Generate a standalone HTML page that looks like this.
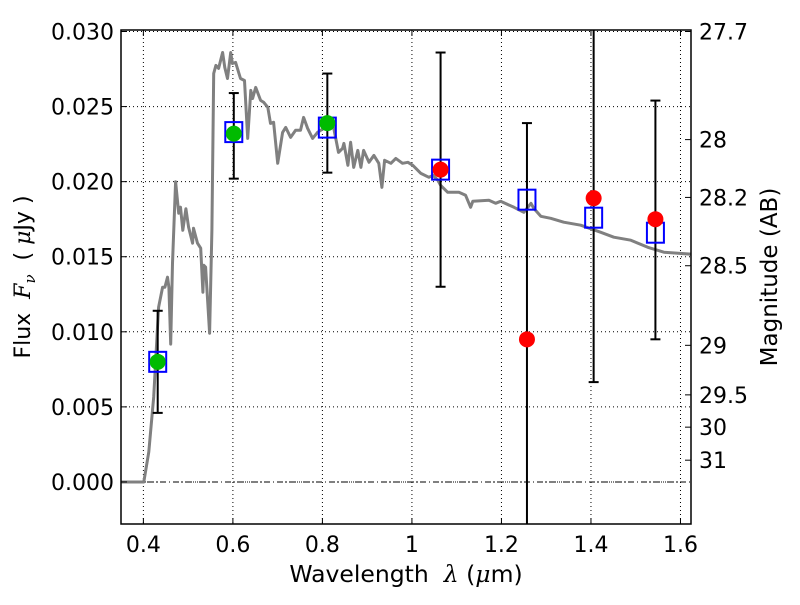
<!DOCTYPE html>
<html><head><meta charset="utf-8"><style>
body{margin:0;background:#fff;}
svg{font-family:"DejaVu Sans","Liberation Sans",sans-serif;}
text{white-space:pre;}
</style></head><body>
<svg id="chart" width="800" height="600" xmlns="http://www.w3.org/2000/svg"></svg>
<script>
// Spectrum: wavelength (um), flux (x 0.001 uJy)
const specLam=[0.349,0.401,0.412,0.423,0.434,0.443,0.448,0.454,0.457,0.461,0.465,0.472,0.479,0.483,0.488,0.495,0.501,0.510,0.512,0.521,0.528,0.533,0.535,0.539,0.548,0.553,0.557,0.562,0.568,0.577,0.582,0.588,0.595,0.599,0.606,0.617,0.626,0.633,0.640,0.644,0.651,0.662,0.669,0.678,0.684,0.691,0.700,0.711,0.718,0.729,0.740,0.751,0.758,0.767,0.778,0.789,0.803,0.825,0.836,0.845,0.848,0.857,0.863,0.870,0.879,0.886,0.892,0.904,0.915,0.926,0.933,0.939,0.953,0.964,0.979,0.991,1.002,1.020,1.038,1.047,1.058,1.064,1.080,1.105,1.120,1.131,1.136,1.172,1.187,1.198,1.228,1.250,1.266,1.272,1.288,1.310,1.339,1.377,1.422,1.451,1.489,1.527,1.563,1.624];
const specFlux=[0,0,2.0,5.66,11.64,12.97,12.97,13.64,12.97,9.18,14.57,20.0,17.9,18.3,16.76,18.2,16.96,15.9,16.9,15.9,15.57,12.64,14.43,14.3,9.91,16.76,27.2,27.74,27.54,28.6,27.6,26.87,28.6,27.87,27.94,26.87,26.74,22.88,26.08,25.54,26.28,25.41,25.28,24.95,23.88,23.95,21.22,23.28,23.61,22.95,23.42,23.42,24.28,23.55,22.88,23.28,23.55,23.61,21.95,22.22,22.55,21.09,22.62,20.95,22.08,20.95,22.08,21.29,21.75,21.22,19.62,21.42,21.22,21.55,21.22,21.29,21.09,20.55,20.29,20.42,20.09,19.76,19.29,19.29,19.09,18.29,18.69,18.76,18.56,18.69,18.29,17.96,18.56,18.23,17.69,17.56,17.30,17.10,16.63,16.30,16.10,15.63,15.30,15.17];
// Photometry
const photLam=[0.432,0.602,0.811,1.064,1.257,1.406,1.544];
const photFlux=[8.0,23.2,23.9,20.8,9.5,18.9,17.5];
const errLo=[4.6,20.2,20.6,13.0,-5,6.65,9.5];
const errHi=[11.4,25.9,27.2,28.6,23.9,35,25.4];
const modelFlux=[8.0,23.3,23.6,20.8,18.8,17.6,16.6];
const photColor=['#00bb00','#00bb00','#00bb00','red','red','red','red'];
// Axes ticks
const xTicks=[0.4,0.6,0.8,1.0,1.2,1.4,1.6];
const xTickLabels=['0.4','0.6','0.8','1','1.2','1.4','1.6'];
const yTicks=[0,5,10,15,20,25,30];
const yTickLabels=['0.000','0.005','0.010','0.015','0.020','0.025','0.030'];
const magLabels=['27.7','28','28.2','28.5','29','29.5','30','31'];
const magFlux=[30.0,22.8,18.95,14.4,9.1,5.8,3.65,1.45];

const L=121,R=691,T=30,B=524;
const X0=0.35,X1=1.6235,Y0=-2.8,Y1=30.1;
const sx=v=>L+(v-X0)/(X1-X0)*(R-L);
const sy=v=>B-(v-Y0)/(Y1-Y0)*(B-T);
const svg=document.getElementById('chart');
const NS='http://www.w3.org/2000/svg';
function mk(tag,attrs,parent){const e=document.createElementNS(NS,tag);for(const k in attrs)e.setAttribute(k,attrs[k]);(parent||svg).appendChild(e);return e;}

const defs=mk('defs',{});
const cp=mk('clipPath',{id:'clip'},defs);
mk('rect',{x:L,y:T,width:R-L,height:B-T},cp);

const grid=mk('g',{});


xTicks.forEach(v=>{mk('line',{x1:sx(v),x2:sx(v),y1:T,y2:B,stroke:'#000','stroke-width':1,'stroke-dasharray':'1,3'},grid);});
yTicks.forEach(v=>{mk('line',{x1:L,x2:R,y1:sy(v),y2:sy(v),stroke:'#000','stroke-width':1,'stroke-dasharray':'1,3'},grid);});
const zl=mk('line',{x1:L,x2:R,y1:sy(0),y2:sy(0),stroke:'#000','stroke-width':1,'stroke-dasharray':'6,3,1,3'});



const d=specLam.map((l,i)=>(i?'L':'M')+sx(l).toFixed(1)+','+sy(specFlux[i]).toFixed(1)).join(' ');
const sp=mk('path',{d:d,fill:'none',stroke:'#808080','stroke-width':3,'stroke-linejoin':'round','clip-path':'url(#clip)'});



photLam.forEach((l,i)=>{
  const g=mk('g',{'clip-path':'url(#clip)'});
  
  
  const x=sx(l);
  mk('line',{x1:x,x2:x,y1:sy(errLo[i]),y2:sy(errHi[i]),stroke:'#000','stroke-width':2},g);
  mk('line',{x1:x-5,x2:x+5,y1:sy(errLo[i]),y2:sy(errLo[i]),stroke:'#000','stroke-width':2},g);
  mk('line',{x1:x-5,x2:x+5,y1:sy(errHi[i]),y2:sy(errHi[i]),stroke:'#000','stroke-width':2},g);
  const sq=mk('rect',{x:x-8.5,y:sy(modelFlux[i])-10,width:17,height:20,fill:'none',stroke:'#0000ff','stroke-width':2});
  
  
  const c=mk('circle',{cx:x,cy:sy(photFlux[i]),r:8,fill:photColor[i]});
  
  
});

const fr=mk('rect',{x:L,y:T,width:R-L,height:B-T,fill:'none',stroke:'#000','stroke-width':1.5});



xTicks.forEach((v,i)=>{
  const x=sx(v);
  mk('line',{x1:x,x2:x,y1:B,y2:B-6,stroke:'#000'});
  mk('line',{x1:x,x2:x,y1:T,y2:T+6,stroke:'#000'});
  const t=mk('text',{x:x,y:552,'text-anchor':'middle','font-size':22});
  t.textContent=xTickLabels[i];
  
  
});
yTicks.forEach((v,i)=>{
  const y=sy(v);
  mk('line',{x1:L,x2:L+6,y1:y,y2:y,stroke:'#000'});
  const t=mk('text',{x:L-7,y:y+8,'text-anchor':'end','font-size':22});
  t.textContent=yTickLabels[i];
  
  
});
magFlux.forEach((v,i)=>{
  const y=sy(v);
  mk('line',{x1:R,x2:R-6,y1:y,y2:y,stroke:'#000'});
  const t=mk('text',{x:R+8,y:y+8,'text-anchor':'start','font-size':22});
  t.textContent=magLabels[i];
  
  
});
</script>
<svg width="800" height="600" style="position:absolute;left:0;top:0" xmlns="http://www.w3.org/2000/svg">
<text x="406" y="582" text-anchor="middle" font-size="23.5" font-family="DejaVu Sans, sans-serif">Wavelength  <tspan font-style="italic" font-family="DejaVu Serif, serif">λ</tspan> (<tspan font-style="italic" font-family="DejaVu Serif, serif">μ</tspan>m)</text>
<text transform="translate(30,277) rotate(-90)" text-anchor="middle" font-size="22" font-family="DejaVu Sans, sans-serif">Flux  <tspan font-style="italic" font-family="DejaVu Serif, serif">F</tspan><tspan font-style="italic" font-family="DejaVu Serif, serif" font-size="15" dy="5">ν</tspan><tspan dy="-5">  ( </tspan><tspan font-style="italic" font-family="DejaVu Serif, serif">μ</tspan>Jy )</text>
<text transform="translate(777,277) rotate(-90)" text-anchor="middle" font-size="23" font-family="DejaVu Sans, sans-serif">Magnitude (AB)</text>
</svg>
</body></html>
